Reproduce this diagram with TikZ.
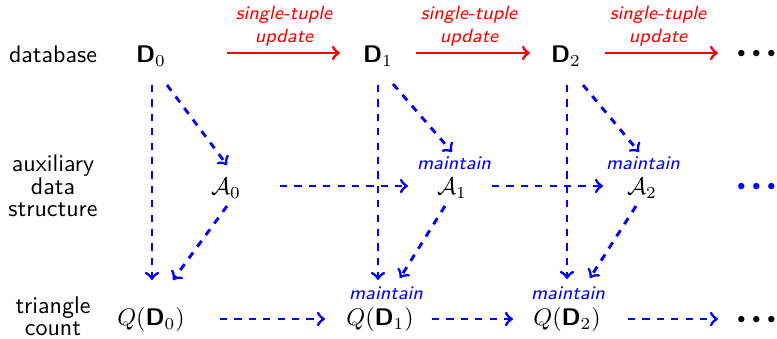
\documentclass[tikz,border=0pt]{standalone}
\usepackage{amsmath}
\usetikzlibrary{calc}
\newcommand{\threedots}{$\mathord{\cdot}\mkern-0.5mu\mathord{\cdot}\mkern-0.5mu\mathord{\cdot}$}
\begin{document}
\begin{tikzpicture}[x=0.41667pt,y=-0.41667pt,
  every node/.style={font=\sffamily, inner sep=0pt, anchor=base},
  lbl/.style={align=center, font=\sffamily\fontsize{10}{9.5}\selectfont},
  upd/.style={text=red, align=center, font=\sffamily\itshape\fontsize{8}{9.6}\selectfont},
  mnt/.style={text=blue, font=\sffamily\itshape\fontsize{8}{9.6}\selectfont},
  redar/.style={draw=red, line width=1.2pt, ->},
  bluear/.style={draw=blue, line width=1.2pt, dashed, ->},
  dotsty/.style={font=\Huge}
]
\useasboundingbox (0,0) rectangle (777,339);

% row labels (base anchor = baseline of last line)
\node[lbl] (Ldb) at (53,63) {database};
\node[lbl] (Laux) at (53,217) {auxiliary\\data\\structure};
\node[lbl] (Ltri) at (53,336) {triangle\\count};

% database row
\node (D0) at (151,63) {$\textsf{\textbf{D}}_0$};
\node (D1) at (378,63) {$\textsf{\textbf{D}}_1$};
\node (D2) at (566,63) {$\textsf{\textbf{D}}_2$};
\node[dotsty] (dT) at (757,69) {\threedots};

% auxiliary row
\node (A0) at (226,195) {$\mathcal{A}_0$};
\node (A1) at (452,195) {$\mathcal{A}_1$};
\node (A2) at (642,195) {$\mathcal{A}_2$};
\node[dotsty, text=blue] (dM) at (757,202) {\threedots};

% count row
\node (Q0) at (151,326) {$Q(\textsf{\textbf{D}}_0)$};
\node (Q1) at (380,326) {$Q(\textsf{\textbf{D}}_1)$};
\node (Q2) at (567,326) {$Q(\textsf{\textbf{D}}_2)$};
\node[dotsty] (dB) at (757,335) {\threedots};

% update labels
\node[upd] (u1) at (284,43) {single-tuple\\update};
\node[upd] (u2) at (469,43) {single-tuple\\update};
\node[upd] (u3) at (658,43) {single-tuple\\update};

% maintain labels
\node[mnt] (m1) at (454,170) {maintain};
\node[mnt] (m2) at (643,170) {maintain};
\node[mnt] (m3) at (386,300) {maintain};
\node[mnt] (m4) at (568,300) {maintain};

% red update arrows
\draw[redar] ($(D0.base)+(76,-10)$) -- ($(D1.base)+(-38,-10)$);
\draw[redar] ($(D1.base)+(38,-10)$) -- ($(D2.base)+(-36,-10)$);
\draw[redar] ($(D2.base)+(39,-10)$) -- ($(dT.base)+(-39,-16)$);

% vertical D -> Q
\draw[bluear] ($(D0.base)+(1,22)$) -- ($(Q0.base)+(1,-46)$);
\draw[bluear] ($(D1.base)+(0,22)$) -- ($(Q1.base)+(-2,-46)$);
\draw[bluear] ($(D2.base)+(1,22)$) -- ($(Q2.base)+(0,-47)$);

% diagonal D -> A
\draw[bluear] ($(D0.base)+(16,22)$) -- ($(A0.base)+(1,-30)$);
\draw[bluear] ($(D1.base)+(15,21)$) -- ($(A1.base)+(0,-43)$);
\draw[bluear] ($(D2.base)+(17,22)$) -- ($(A2.base)+(-3,-43)$);

% diagonal A -> Q
\draw[bluear] ($(A0.base)+(1,11)$) -- ($(Q0.base)+(22,-46)$);
\draw[bluear] ($(A1.base)+(-7,11)$) -- ($(Q1.base)+(20,-48)$);
\draw[bluear] ($(A2.base)+(-6,11)$) -- ($(Q2.base)+(23,-48)$);

% horizontal A -> A
\draw[bluear] ($(A0.base)+(54,-9)$) -- ($(A1.base)+(-44,-9)$);
\draw[bluear] ($(A1.base)+(40,-9)$) -- ($(A2.base)+(-39,-9)$);

% horizontal Q -> Q
\draw[bluear] ($(Q0.base)+(69,-7)$) -- ($(Q1.base)+(-55,-7)$);
\draw[bluear] ($(Q1.base)+(52,-7)$) -- ($(Q2.base)+(-54,-7)$);
\draw[bluear] ($(Q2.base)+(61,-7)$) -- ($(dB.base)+(-39,-16)$);
\end{tikzpicture}
\end{document}
